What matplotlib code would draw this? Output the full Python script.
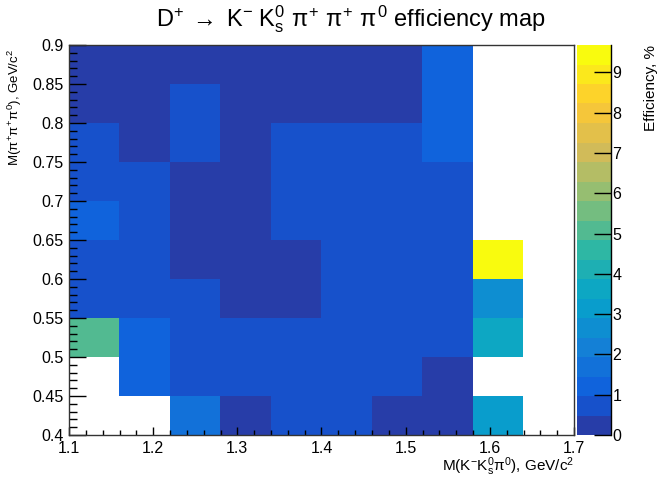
import numpy as np
import matplotlib
matplotlib.use("Agg")
import matplotlib.pyplot as plt
from matplotlib.colors import ListedColormap, BoundaryNorm

plt.rcParams['font.family'] = ['Liberation Sans', 'DejaVu Sans']
plt.rcParams['mathtext.fontset'] = 'custom'
plt.rcParams['mathtext.rm'] = 'Liberation Sans'
plt.rcParams['mathtext.it'] = 'Liberation Sans'
plt.rcParams['mathtext.sf'] = 'Liberation Sans'

# ---- data ----
x_edges = [1.10, 1.16, 1.22, 1.28, 1.34, 1.40, 1.46, 1.52, 1.58, 1.64, 1.70]
y_edges = [0.40, 0.45, 0.50, 0.55, 0.60, 0.65, 0.70, 0.75, 0.80, 0.85, 0.90]
# efficiency (%) per bin, rows from y=0.40 upward, 0 = empty bin
eff_040 = [0.0, 0.0, 1.7, 0.25, 0.7, 0.7, 0.25, 0.25, 3.1, 0.0]
eff_045 = [0.0, 1.2, 0.7, 0.7, 0.7, 0.7, 0.7, 0.25, 0.0, 0.0]
eff_050 = [5.1, 1.2, 0.7, 0.7, 0.7, 0.7, 0.7, 0.7, 3.6, 0.0]
eff_055 = [0.7, 0.7, 0.7, 0.25, 0.25, 0.7, 0.7, 0.7, 2.6, 0.0]
eff_060 = [0.7, 0.7, 0.25, 0.25, 0.25, 0.7, 0.7, 0.7, 9.68, 0.0]
eff_065 = [1.2, 0.7, 0.25, 0.25, 0.7, 0.7, 0.7, 0.7, 0.0, 0.0]
eff_070 = [0.7, 0.7, 0.25, 0.25, 0.7, 0.7, 0.7, 0.7, 0.0, 0.0]
eff_075 = [0.7, 0.25, 0.7, 0.25, 0.7, 0.7, 0.7, 1.2, 0.0, 0.0]
eff_080 = [0.25, 0.25, 0.7, 0.25, 0.25, 0.25, 0.25, 1.2, 0.0, 0.0]
eff_085 = [0.25, 0.25, 0.25, 0.25, 0.25, 0.25, 0.25, 1.2, 0.0, 0.0]
z_ticks = [0, 1, 2, 3, 4, 5, 6, 7, 8, 9]

Z = np.array([eff_040, eff_045, eff_050, eff_055, eff_060,
              eff_065, eff_070, eff_075, eff_080, eff_085])
Zm = np.ma.masked_where(Z <= 0, Z)

# ---- ROOT kBird palette, 20 contours ----
stops = [0.0, 0.125, 0.25, 0.375, 0.5, 0.625, 0.75, 0.875, 1.0]
red = [0.2082, 0.0592, 0.0780, 0.0232, 0.1802, 0.5301, 0.8186, 0.9956, 0.9764]
green = [0.1664, 0.3599, 0.5041, 0.6419, 0.7178, 0.7492, 0.7328, 0.7862, 0.9832]
blue = [0.5293, 0.8684, 0.8385, 0.7914, 0.6425, 0.4662, 0.3499, 0.1968, 0.0539]
ndiv = 20
ncol = 255
cols = []
for k in range(ndiv):
    idx = int((k + 0.99) * ncol / ndiv)
    t = idx / (ncol - 1)
    cols.append((np.interp(t, stops, red), np.interp(t, stops, green), np.interp(t, stops, blue)))
cmap = ListedColormap(cols)
zmax = Z.max()
levels = np.linspace(0, zmax, ndiv + 1)
norm = BoundaryNorm(levels, cmap.N)

W, H = 659, 482
fig = plt.figure(figsize=(W / 100, H / 100), dpi=100)
ax = fig.add_axes([69 / W, 1 - 435 / H, (574 - 69) / W, (435 - 45) / H])
cax = fig.add_axes([577 / W, 1 - 435 / H, 34 / W, (435 - 45) / H])

mesh = ax.pcolormesh(x_edges, y_edges, Zm, cmap=cmap, norm=norm)
ax.set_xlim(1.1, 1.7)
ax.set_ylim(0.4, 0.9)
ax.set_xticks([1.1, 1.2, 1.3, 1.4, 1.5, 1.6, 1.7])
ax.set_xticklabels(['1.1', '1.2', '1.3', '1.4', '1.5', '1.6', '1.7'])
ax.set_xticks(np.arange(1.1, 1.7001, 0.02), minor=True)
yt = [0.4, 0.45, 0.5, 0.55, 0.6, 0.65, 0.7, 0.75, 0.8, 0.85, 0.9]
ax.set_yticks(yt)
ax.set_yticklabels(['0.4', '0.45', '0.5', '0.55', '0.6', '0.65', '0.7', '0.75', '0.8', '0.85', '0.9'])
ax.set_yticks(np.arange(0.4, 0.9001, 0.01), minor=True)
ax.tick_params(axis='both', which='both', direction='in', top=False, right=False,
               labelsize=11.5, width=1, color='black')
ax.tick_params(axis='y', which='major', length=12.5, pad=4)
ax.tick_params(axis='y', which='minor', length=6)
ax.tick_params(axis='x', which='major', length=6, pad=4)
ax.tick_params(axis='x', which='minor', length=3.5)
for s in ax.spines.values():
    s.set_linewidth(1)
    s.set_color('#333333')

ax.set_xlabel(r'M(K$^{-}$K$_{s}^{0}$$\pi^{0}$), GeV/c$^{2}$', fontsize=11, loc='right', labelpad=0)
ax.set_ylabel(r'M($\pi^{+}\pi^{+}\pi^{0}$), GeV/c$^{2}$', fontsize=9.5, loc='top')
ax.yaxis.set_label_coords(-45 / 505, 0.99)

cb = fig.colorbar(mesh, cax=cax, ticks=z_ticks)
cb.outline.set_visible(False)
cax.plot([1, 1], [0, 1], transform=cax.transAxes, color='black', lw=1, clip_on=False)
cax.tick_params(axis='y', which='major', direction='in', length=12.5, width=1, labelsize=11.5, pad=1, color='black')
cax.tick_params(axis='y', which='minor', length=0)
cax.set_yticklabels([str(t) for t in z_ticks])
cb.set_label('Efficiency, %', fontsize=11, loc='top', labelpad=16)

fig.text(351 / W, 1 - 26 / H,
         r'D$^{+}\;\rightarrow\;$K$^{-}$ K$_{s}^{0}$ $\pi^{+}$ $\pi^{+}$ $\pi^{0}$ efficiency map',
         fontsize=17, ha='center', va='baseline')

fig.savefig('out.png', dpi=100)
